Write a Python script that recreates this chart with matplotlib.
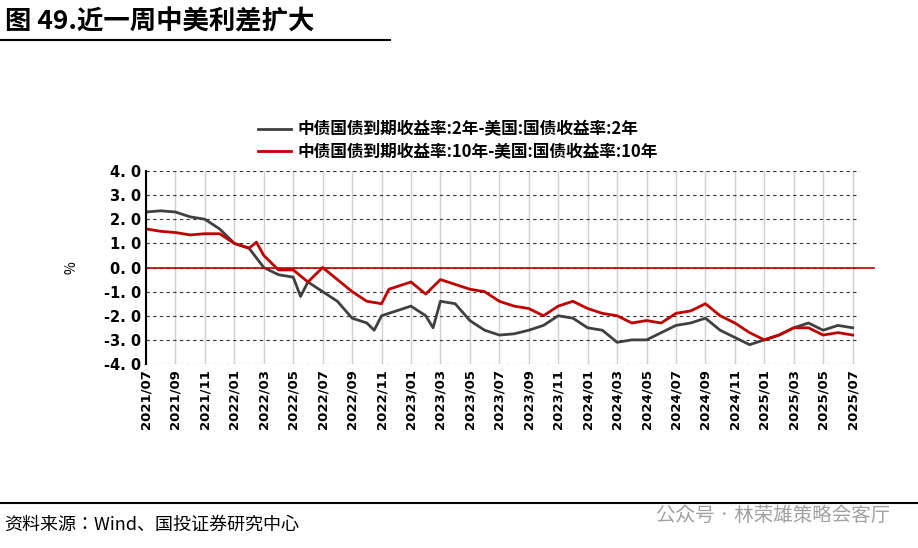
import matplotlib
matplotlib.use("Agg")
import matplotlib.pyplot as plt
from matplotlib import font_manager as fm

cjk = [f for f in fm.findSystemFonts() if "cjk" in f.lower()]
names = []
for f in cjk:
    try:
        fm.fontManager.addfont(f)
        names.append(fm.FontProperties(fname=f).get_name())
    except Exception:
        pass
pref = [n for n in names if "Sans" in n and "SC" in n] + [n for n in names if "Sans" in n] + names
plt.rcParams["font.family"] = (pref[:1] if pref else []) + ["DejaVu Sans"]

# month offsets from 2021/07
t2 = [0,1,2,3,4,5,6,7,8,9,10,10.5,11,12,13,14,15,15.5,16,17,18,19,19.5,20,21,22,23,24,25,26,27,28,29,30,31,32,33,34,35,36,37,38,39,40,41,42,43,44,45,46,47,48]
y2 = [2.3,2.35,2.3,2.1,2.0,1.6,1.0,0.8,0.0,-0.3,-0.4,-1.2,-0.6,-1.0,-1.4,-2.1,-2.3,-2.6,-2.0,-1.8,-1.6,-2.0,-2.5,-1.4,-1.5,-2.2,-2.6,-2.8,-2.75,-2.6,-2.4,-2.0,-2.1,-2.5,-2.6,-3.1,-3.0,-3.0,-2.7,-2.4,-2.3,-2.1,-2.6,-2.9,-3.2,-3.0,-2.8,-2.5,-2.3,-2.6,-2.4,-2.5]
t10 = [0,1,2,3,4,5,6,7,7.5,8,9,10,11,12,13,14,15,16,16.5,17,18,19,20,21,22,23,24,25,26,27,28,29,30,31,32,33,34,35,36,37,38,39,40,41,42,43,44,45,46,47,48]
y10 = [1.6,1.5,1.45,1.35,1.4,1.4,1.0,0.8,1.05,0.5,-0.1,-0.1,-0.6,0.0,-0.5,-1.0,-1.4,-1.5,-0.9,-0.8,-0.6,-1.1,-0.5,-0.7,-0.9,-1.0,-1.4,-1.6,-1.7,-2.0,-1.6,-1.4,-1.7,-1.9,-2.0,-2.3,-2.2,-2.3,-1.9,-1.8,-1.5,-2.0,-2.3,-2.7,-3.0,-2.8,-2.5,-2.5,-2.8,-2.7,-2.8]
xlabels = ["2021/07","2021/09","2021/11","2022/01","2022/03","2022/05","2022/07","2022/09","2022/11","2023/01","2023/03","2023/05","2023/07","2023/09","2023/11","2024/01","2024/03","2024/05","2024/07","2024/09","2024/11","2025/01","2025/03","2025/05","2025/07"]
yticks = [4,3,2,1,0,-1,-2,-3,-4]

fig = plt.figure(figsize=(9.18,5.48), dpi=100)
ax = fig.add_axes([146/918, 1-364/548, (860-146)/918, (364-171)/548])
ax.plot(t2, y2, color="#404040", lw=2, label="中债国债到期收益率:2年-美国:国债收益率:2年")
ax.plot(t10, y10, color="#c00000", lw=2, label="中债国债到期收益率:10年-美国:国债收益率:10年")
ax.plot([0, 1.02], [0, 0], transform=ax.get_yaxis_transform(), color="#c00000", lw=1.2, clip_on=False)
ax.set_xlim(0, 48.5)
ax.set_ylim(-4, 4)
ax.set_yticks(yticks)
ax.set_yticklabels([f"{v:.1f}".replace(".", ". ") for v in yticks], fontsize=10.5, fontfamily="DejaVu Sans", fontweight="bold")
ax.set_xticks(range(0, 49, 2))
ax.set_xticklabels(xlabels, rotation=90, fontsize=9.5, fontfamily="DejaVu Sans", fontweight="bold")
ax.grid(axis="x", color="#d0d0d0", lw=1)
ax.grid(axis="y", color="#333333", ls=(0,(3,3)), lw=0.8)
for s in ["top","right","bottom"]:
    ax.spines[s].set_visible(False)
ax.spines["left"].set_linewidth(1.5)
ax.tick_params(length=0)
ax.set_ylabel("%", fontsize=10, labelpad=18)
ax.legend(loc="lower left", bbox_to_anchor=(0.145, 1.01), frameon=False, prop={"size":12, "weight":"bold"}, handlelength=2.0, borderpad=0, labelspacing=0.25, handletextpad=0.4)

fig.text(0.005, 1-22/548, "图 49.近一周中美利差扩大", fontsize=19, va="center", fontweight="bold")
fig.add_artist(plt.Line2D([0, 390/918], [1-40/548]*2, color="black", lw=1.5))
fig.add_artist(plt.Line2D([0, 1], [1-503/548]*2, color="black", lw=1.5))
fig.text(0.005, 1-525/548, "资料来源：Wind、国投证券研究中心", fontsize=13, style="italic", va="center")
fig.text(0.97, 1-515/548, "公众号 · 林荣雄策略会客厅", fontsize=14, color="#a0a0a0", ha="right", va="center")
fig.savefig("out.png", dpi=100)
